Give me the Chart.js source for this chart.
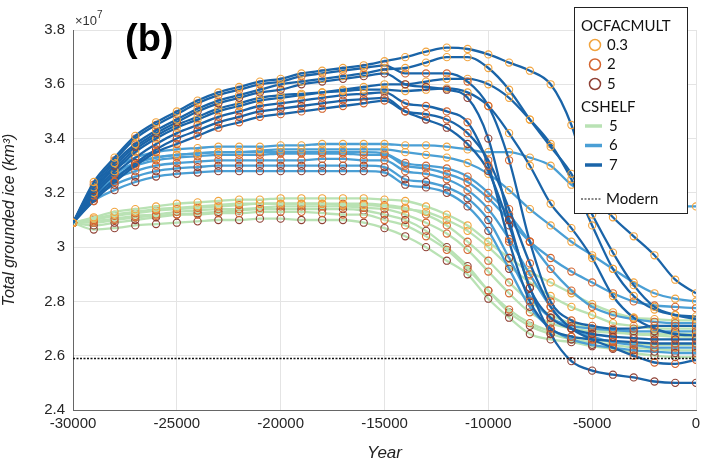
<!DOCTYPE html>
<html>
<head>
<meta charset="utf-8">
<script src="https://cdn.jsdelivr.net/npm/chart.js@4.4.1/dist/chart.umd.min.js"></script>
<style>
  html, body { margin: 0; background: #fff; }
  #wrap { width: 706px; height: 463px; }
</style>
</head>
<body>
<div id="wrap"><canvas id="c"></canvas></div>
<script>
// years, every 1000 yr
const years = [-30000,-29000,-28000,-27000,-26000,-25000,-24000,-23000,-22000,-21000,-20000,
  -19000,-18000,-17000,-16000,-15000,-14000,-13000,-12000,-11000,-10000,
  -9000,-8000,-7000,-6000,-5000,-4000,-3000,-2000,-1000,0]

// total grounded ice, units of 1e7 km^3
const runA1 = [3.09,3.24,3.33,3.41,3.46,3.50,3.54,3.57,3.59,3.61,3.62,3.64,3.65,3.66,3.67,3.685,3.70,3.72,3.735,3.73,3.71,3.68,3.65,3.60,3.45,3.20,3.11,3.04,2.97,2.88,2.83]
const runA2 = [3.09,3.23,3.32,3.40,3.45,3.49,3.53,3.56,3.58,3.60,3.61,3.63,3.64,3.65,3.66,3.67,3.64,3.64,3.64,3.61,3.52,3.32,3.02,2.80,2.73,2.71,2.70,2.70,2.71,2.71,2.71]
const runA3 = [3.09,3.22,3.31,3.38,3.43,3.47,3.51,3.54,3.56,3.58,3.60,3.61,3.62,3.63,3.64,3.655,3.66,3.68,3.70,3.70,3.66,3.58,3.47,3.37,3.27,3.12,2.98,2.86,2.78,2.75,2.735]
const runA4 = [3.09,3.21,3.30,3.37,3.42,3.46,3.50,3.53,3.55,3.57,3.58,3.60,3.61,3.62,3.63,3.64,3.60,3.59,3.58,3.55,3.40,3.10,2.85,2.74,2.70,2.68,2.67,2.665,2.66,2.66,2.66]
const runB1 = [3.09,3.20,3.28,3.35,3.40,3.44,3.47,3.50,3.52,3.54,3.55,3.56,3.57,3.58,3.59,3.60,3.60,3.61,3.62,3.62,3.60,3.55,3.47,3.38,3.25,3.08,2.92,2.82,2.77,2.75,2.745]
const runB2 = [3.09,3.19,3.27,3.33,3.38,3.42,3.45,3.48,3.50,3.52,3.53,3.54,3.55,3.56,3.565,3.57,3.53,3.52,3.50,3.46,3.30,3.02,2.80,2.70,2.67,2.66,2.655,2.65,2.645,2.645,2.645]
const runB3 = [3.09,3.18,3.25,3.31,3.36,3.40,3.43,3.46,3.48,3.50,3.51,3.52,3.53,3.54,3.545,3.55,3.50,3.47,3.44,3.38,3.28,3.08,2.85,2.68,2.58,2.545,2.53,2.52,2.505,2.50,2.50]
const runB4 = [3.09,3.21,3.29,3.36,3.41,3.45,3.48,3.51,3.53,3.55,3.56,3.565,3.57,3.575,3.58,3.58,3.575,3.58,3.585,3.57,3.52,3.42,3.30,3.16,3.07,2.96,2.82,2.74,2.70,2.68,2.675]
const runB5 = [3.09,3.17,3.24,3.30,3.35,3.38,3.41,3.44,3.46,3.48,3.49,3.50,3.51,3.52,3.53,3.54,3.50,3.49,3.47,3.42,3.32,3.14,2.94,2.78,2.70,2.66,2.63,2.60,2.575,2.57,2.585]
const runC1 = [3.09,3.22,3.29,3.33,3.35,3.36,3.365,3.37,3.37,3.37,3.375,3.375,3.38,3.38,3.38,3.38,3.375,3.375,3.37,3.36,3.35,3.35,3.33,3.30,3.23,3.19,3.17,3.16,3.15,3.15,3.15]
const runC2 = [3.09,3.21,3.27,3.31,3.33,3.34,3.345,3.35,3.35,3.355,3.36,3.36,3.36,3.36,3.36,3.36,3.35,3.34,3.33,3.31,3.27,3.21,3.14,3.08,3.02,2.97,2.92,2.87,2.83,2.81,2.80]
const runC3 = [3.09,3.20,3.26,3.30,3.32,3.33,3.335,3.34,3.34,3.34,3.345,3.345,3.345,3.345,3.34,3.34,3.30,3.29,3.27,3.24,3.18,3.10,3.02,2.96,2.91,2.87,2.83,2.80,2.785,2.78,2.775]
const runC4 = [3.09,3.18,3.23,3.26,3.28,3.29,3.295,3.30,3.30,3.30,3.30,3.30,3.30,3.30,3.30,3.295,3.25,3.24,3.22,3.18,3.10,2.96,2.82,2.74,2.71,2.70,2.695,2.69,2.69,2.69,2.69]
const runC5 = [3.09,3.19,3.25,3.28,3.30,3.31,3.315,3.32,3.32,3.32,3.32,3.32,3.325,3.325,3.32,3.32,3.28,3.27,3.25,3.21,3.14,3.03,2.90,2.78,2.70,2.67,2.65,2.64,2.63,2.63,2.63]
const runC6 = [3.09,3.17,3.21,3.24,3.26,3.27,3.275,3.28,3.28,3.28,3.28,3.28,3.28,3.28,3.28,3.275,3.23,3.22,3.20,3.15,3.06,2.92,2.78,2.70,2.66,2.64,2.63,2.62,2.615,2.61,2.61]
const runC7 = [3.09,3.20,3.27,3.31,3.33,3.34,3.345,3.35,3.35,3.35,3.35,3.35,3.35,3.35,3.35,3.345,3.31,3.30,3.29,3.26,3.20,3.12,3.02,2.92,2.84,2.78,2.75,2.735,2.725,2.72,2.72]
const runD1 = [3.09,3.11,3.13,3.14,3.15,3.16,3.165,3.17,3.175,3.175,3.18,3.18,3.18,3.18,3.18,3.175,3.17,3.15,3.12,3.08,3.02,2.96,2.91,2.87,2.83,2.79,2.76,2.74,2.735,2.73,2.73]
const runD2 = [3.09,3.10,3.115,3.125,3.135,3.14,3.145,3.15,3.155,3.16,3.16,3.16,3.16,3.16,3.16,3.155,3.145,3.12,3.08,3.02,2.95,2.87,2.80,2.75,2.72,2.70,2.69,2.68,2.675,2.67,2.67]
const runD3 = [3.09,3.08,3.09,3.10,3.11,3.12,3.125,3.13,3.135,3.14,3.14,3.14,3.14,3.14,3.135,3.12,3.10,3.06,3.00,2.93,2.84,2.76,2.71,2.68,2.66,2.65,2.64,2.63,2.625,2.62,2.62]
const runD4 = [3.09,3.105,3.12,3.13,3.14,3.145,3.15,3.155,3.16,3.16,3.16,3.16,3.16,3.155,3.155,3.15,3.14,3.13,3.10,3.06,3.00,2.93,2.87,2.82,2.78,2.75,2.72,2.71,2.70,2.70,2.70]
const runD5 = [3.09,3.09,3.10,3.11,3.115,3.12,3.12,3.125,3.125,3.13,3.13,3.13,3.125,3.12,3.12,3.10,3.08,3.04,2.99,2.92,2.84,2.77,2.72,2.69,2.67,2.66,2.65,2.645,2.64,2.64,2.64]
const runD6 = [3.09,3.065,3.07,3.08,3.085,3.09,3.095,3.10,3.10,3.105,3.105,3.10,3.10,3.10,3.09,3.07,3.04,3.00,2.95,2.90,2.81,2.74,2.68,2.66,2.65,2.635,2.625,2.61,2.60,2.595,2.595]
const runD7 = [3.09,3.095,3.105,3.115,3.12,3.13,3.135,3.14,3.14,3.145,3.15,3.15,3.15,3.15,3.145,3.14,3.12,3.09,3.05,2.99,2.91,2.83,2.76,2.72,2.70,2.69,2.685,2.68,2.68,2.68,2.68]

const modernIce = 2.59

// parameter of each run: [data, OCFACMULT, CSHELF]
const runs = [
  [runD6,'5','5'],[runD3,'5','5'],[runD5,'2','5'],[runD7,'2','5'],[runD2,'2','5'],[runD4,'0.3','5'],[runD1,'0.3','5'],
  [runC6,'5','6'],[runC4,'5','6'],[runC5,'2','6'],[runC3,'2','6'],[runC7,'2','6'],[runC2,'0.3','6'],[runC1,'0.3','6'],
  [runB3,'5','7'],[runB5,'2','7'],[runB2,'2','7'],[runB4,'0.3','7'],[runB1,'0.3','7'],
  [runA4,'5','7'],[runA2,'2','7'],[runA3,'0.3','7'],[runA1,'0.3','7'],
]

const ocfLevels = ['0.3','2','5']
const cshelfLevels = ['5','6','7']
const ocfColors = {'0.3':'#f2a43e','2':'#d4652f','5':'#8f4034'}
const cshelfColors = {'5':'#b9e2b4','6':'#4a9fd5','7':'#1a64a8'}

const FONT = '"Liberation Sans", Arial, sans-serif'

const makeDatasets = function () {
  const sets = runs.map(([vals, ocf, cs], i) => ({
    data: vals.map((v, j) => ({x: years[j], y: v})),
    borderColor: cshelfColors[cs],
    borderWidth: 2.3,
    pointRadius: 3.6,
    pointBorderWidth: 1.1,
    pointBorderColor: ocfColors[ocf],
    pointBackgroundColor: 'rgba(0,0,0,0)',
    cubicInterpolationMode: 'monotone',
    order: runs.length - i + 1,
  }))
  sets.push({
    data: [{x: years[0], y: modernIce}, {x: years[years.length - 1], y: modernIce}],
    borderColor: '#111',
    borderWidth: 1.4,
    borderDash: [2, 1.5],
    pointRadius: 0,
    order: 0,
  })
  return sets
}

const extrasPlugin = {
  id: 'extras',
  afterDraw(chart) {
    const ctx = chart.ctx
    ctx.save()
    // x10^7 multiplier
    ctx.fillStyle = '#333'
    ctx.textBaseline = 'alphabetic'
    ctx.font = '13px ' + FONT
    ctx.fillText('\u00d710', 75, 25)
    ctx.font = '10px ' + FONT
    ctx.fillText('7', 97, 18)
    // panel label
    ctx.fillStyle = '#000'
    ctx.font = 'bold 38px ' + FONT
    ctx.fillText('(b)', 125, 51)

    // legend box
    const lx = 574, ly = 7, lw = 113, lh = 206
    ctx.fillStyle = '#fff'
    ctx.fillRect(lx, ly, lw, lh)
    ctx.strokeStyle = '#222'
    ctx.lineWidth = 1
    ctx.strokeRect(lx + 0.5, ly + 0.5, lw, lh)
    ctx.fillStyle = '#111'
    ctx.textBaseline = 'middle'
    ctx.font = '15px Lato, "Open Sans", sans-serif'
    ctx.fillText('OCFACMULT', 581, 26)
    ocfLevels.forEach((lv, i) => {
      const y = 45 + i * 19.5
      ctx.beginPath()
      ctx.arc(595, y, 5.5, 0, Math.PI * 2)
      ctx.strokeStyle = ocfColors[lv]
      ctx.lineWidth = 1.5
      ctx.stroke()
      ctx.fillStyle = '#111'
      ctx.fillText(lv, 607, y)
    })
    ctx.fillText('CSHELF', 581, 107)
    cshelfLevels.forEach((lv, i) => {
      const y = 126 + i * 19.5
      ctx.beginPath()
      ctx.moveTo(585, y)
      ctx.lineTo(602, y)
      ctx.strokeStyle = cshelfColors[lv]
      ctx.lineWidth = 3.5
      ctx.stroke()
      ctx.fillStyle = '#111'
      ctx.fillText(lv, 609, y)
    })
    ctx.beginPath()
    ctx.moveTo(581, 199)
    ctx.lineTo(601, 199)
    ctx.strokeStyle = '#111'
    ctx.lineWidth = 1
    ctx.setLineDash([2, 1.5])
    ctx.stroke()
    ctx.setLineDash([])
    ctx.fillText('Modern', 606, 199)
    ctx.restore()
  },
}

const init = function () {
  const ctx = document.querySelector('#c')
  new Chart(ctx, {
    type: 'line',
    data: {datasets: makeDatasets()},
    options: {
      responsive: true,
      maintainAspectRatio: false,
      animation: false,
      events: [],
      layout: {padding: {top: 30, right: 10, left: 0, bottom: 0}},
      plugins: {legend: {display: false}, tooltip: {enabled: false}},
      scales: {
        x: {
          type: 'linear',
          min: -30000,
          max: 0,
          afterFit: (s) => { s.height = 53 },
          ticks: {
            stepSize: 5000,
            color: '#262626',
            font: {family: FONT, size: 15},
            padding: 5,
            maxRotation: 0,
            callback: (v) => String(v),
          },
          grid: {color: '#e4e4e4', drawTicks: false},
          border: {color: '#666', width: 1},
          title: {
            display: true,
            text: 'Year',
            color: '#222',
            font: {family: FONT, size: 17, style: 'italic'},
            padding: {top: 2, bottom: 0},
          },
        },
        y: {
          min: 2.4,
          max: 3.8,
          afterFit: (s) => { s.width = 73 },
          ticks: {
            stepSize: 0.2,
            color: '#262626',
            font: {family: FONT, size: 15},
            padding: 8,
            callback: (v) => String(Number(v.toFixed(1))),
          },
          grid: {color: '#e4e4e4', drawTicks: false},
          border: {color: '#666', width: 1},
          title: {
            display: true,
            text: 'Total grounded ice (km\u00b3)',
            color: '#222',
            font: {family: FONT, size: 16, style: 'italic'},
            padding: {top: 0, bottom: 4},
          },
        },
      },
    },
    plugins: [extrasPlugin],
  })
}

document.addEventListener('DOMContentLoaded', function () {
  init()
})
</script>
</body>
</html>
